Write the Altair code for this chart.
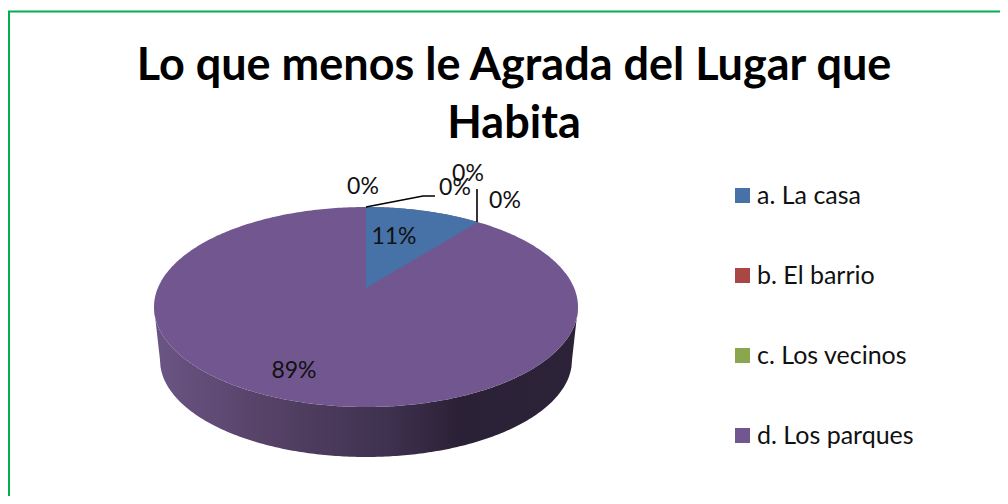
import math
import numpy as np
import pandas as pd
import altair as alt

categories = ["a. La casa", "b. El barrio", "c. Los vecinos", "d. Los parques"]
shares = [10.6, 0, 0, 89.4]
colors = ["#4672a8", "#aa4644", "#8aa64e", "#725690"]
title_lines = ["Lo que menos le Agrada del Lugar que", "Habita"]
FONT = "Lato"

# Pie geometry, in reference pixels
CX, CY, RX, RY = 366, 307, 212, 100     # top face ellipse
APEX_Y = 288                            # where the pie centre lands under perspective
BX, BCY, BRY = 206, 360, 97             # lower rim of the wall
K = 0.19
A = RX * math.sqrt(1 - K * K)
B = 96.4


def project(theta):
    u, v = math.sin(theta), math.cos(theta)
    d = 1 + K * v
    return CX + A * u / d, APEX_Y - B * v / d


def half(x, cy, rx, ry, sign):
    return cy + sign * ry * np.sqrt(np.clip(1 - ((x - CX) / rx) ** 2, 0, 1))


# top face: largest slice as the complete ellipse
xs = CX + RX * np.cos(np.linspace(math.pi, 0, 241))
face = pd.DataFrame({
    "x": xs,
    "y": half(xs, CY, RX, RY, -1),
    "y2": half(xs, CY, RX, RY, 1),
    "category": categories[3],
})

# blue slice from its share
end_x, end_y = project(2 * math.pi * shares[0] / 100)
wx = np.linspace(CX, end_x, 60)
wedge = pd.DataFrame({
    "x": wx,
    "y": half(wx, CY, RX, RY, -1),
    "y2": APEX_Y + (end_y - APEX_Y) * (wx - CX) / (end_x - CX),
    "category": categories[0],
})

# wall of the pie
wall_x = CX + RX * np.cos(np.linspace(math.pi, 0, 241))
wall_low = np.where(
    np.abs(wall_x - CX) <= BX,
    half(wall_x, BCY, BX, BRY, 1),
    CY + (BCY - CY) * (RX - np.abs(wall_x - CX)) / (RX - BX),
)
wall = pd.DataFrame({"x": wall_x, "y": half(wall_x, CY, RX, RY, 1), "y2": wall_low})

# labels
pct_text = [f"{round(s)}%" for s in shares]
labels = pd.DataFrame({
    "x": [394, 294, 363, 455, 468, 505],
    "y": [237, 371, 187, 188, 174, 201],
    "t": [pct_text[0], pct_text[3], pct_text[1], pct_text[1], pct_text[2], pct_text[2]],
})
leader = pd.DataFrame({
    "x": [366, 423, 435, 477, 477],
    "y": [207, 196, 196, 189, end_y],
    "g": ["a", "a", "a", "b", "b"],
})
border = pd.DataFrame({"x": [1000, 9, 9], "y": [11.5, 11.5, 496]})

xs_scale = alt.Scale(domain=[8, 1000], range=[0, 992], nice=False, zero=False)
ys_scale = alt.Scale(domain=[496, 8], nice=False, zero=False)
X = alt.X("x:Q", scale=xs_scale, axis=None)
Y = alt.Y("y:Q", scale=ys_scale, axis=None)

gradient = alt.Gradient(
    gradient="linear", x1=0, x2=1, y1=0, y2=0,
    stops=[
        alt.GradientStop(offset=0, color="#6a5585"),
        alt.GradientStop(offset=0.25, color="#574368"),
        alt.GradientStop(offset=0.55, color="#3f3150"),
        alt.GradientStop(offset=0.72, color="#2b2136"),
        alt.GradientStop(offset=1, color="#2d2339"),
    ],
)

wall_layer = alt.Chart(wall).mark_area(color=gradient).encode(x=X, y=Y, y2="y2:Q")
color = alt.Color(
    "category:N",
    scale=alt.Scale(domain=categories, range=colors),
    legend=alt.Legend(
        title=None, orient="none", legendX=722, legendY=175,
        symbolType="square", symbolSize=225, symbolStrokeWidth=0,
        labelFont=FONT, labelFontSize=25, labelColor="#111111",
        labelOffset=2, rowPadding=54, labelLimit=260,
    ),
)
face_layer = alt.Chart(face).mark_area().encode(x=X, y=Y, y2="y2:Q", color=color)
wedge_layer = alt.Chart(wedge).mark_area().encode(x=X, y=Y, y2="y2:Q", color=color)
leader_layer = alt.Chart(leader).mark_line(color="#000000", strokeWidth=1.6).encode(x=X, y=Y, detail="g:N")
label_layer = alt.Chart(labels).mark_text(font=FONT, fontSize=23, color="#111111", align="center", baseline="middle").encode(
    x=X, y=Y, text="t:N"
)
border_layer = alt.Chart(border).transform_window(i="row_number()").mark_line(color="#00b050", strokeWidth=2).encode(
    x=X, y=Y, order="i:Q"
)

chart = alt.layer(border_layer, wall_layer, face_layer, wedge_layer, leader_layer, label_layer).properties(
    width=992, height=488, padding=0,
    title=alt.TitleParams(
        text=title_lines, font=FONT, fontSize=45, fontWeight="bold", color="#000000",
        anchor="middle", frame="group", baseline="top", lineHeight=58, dx=10, dy=143,
    ),
    autosize=alt.AutoSizeParams(type="none"),
).configure_view(stroke=None)

chart.save("out.html", embed_options={"renderer": "svg", "actions": False})
